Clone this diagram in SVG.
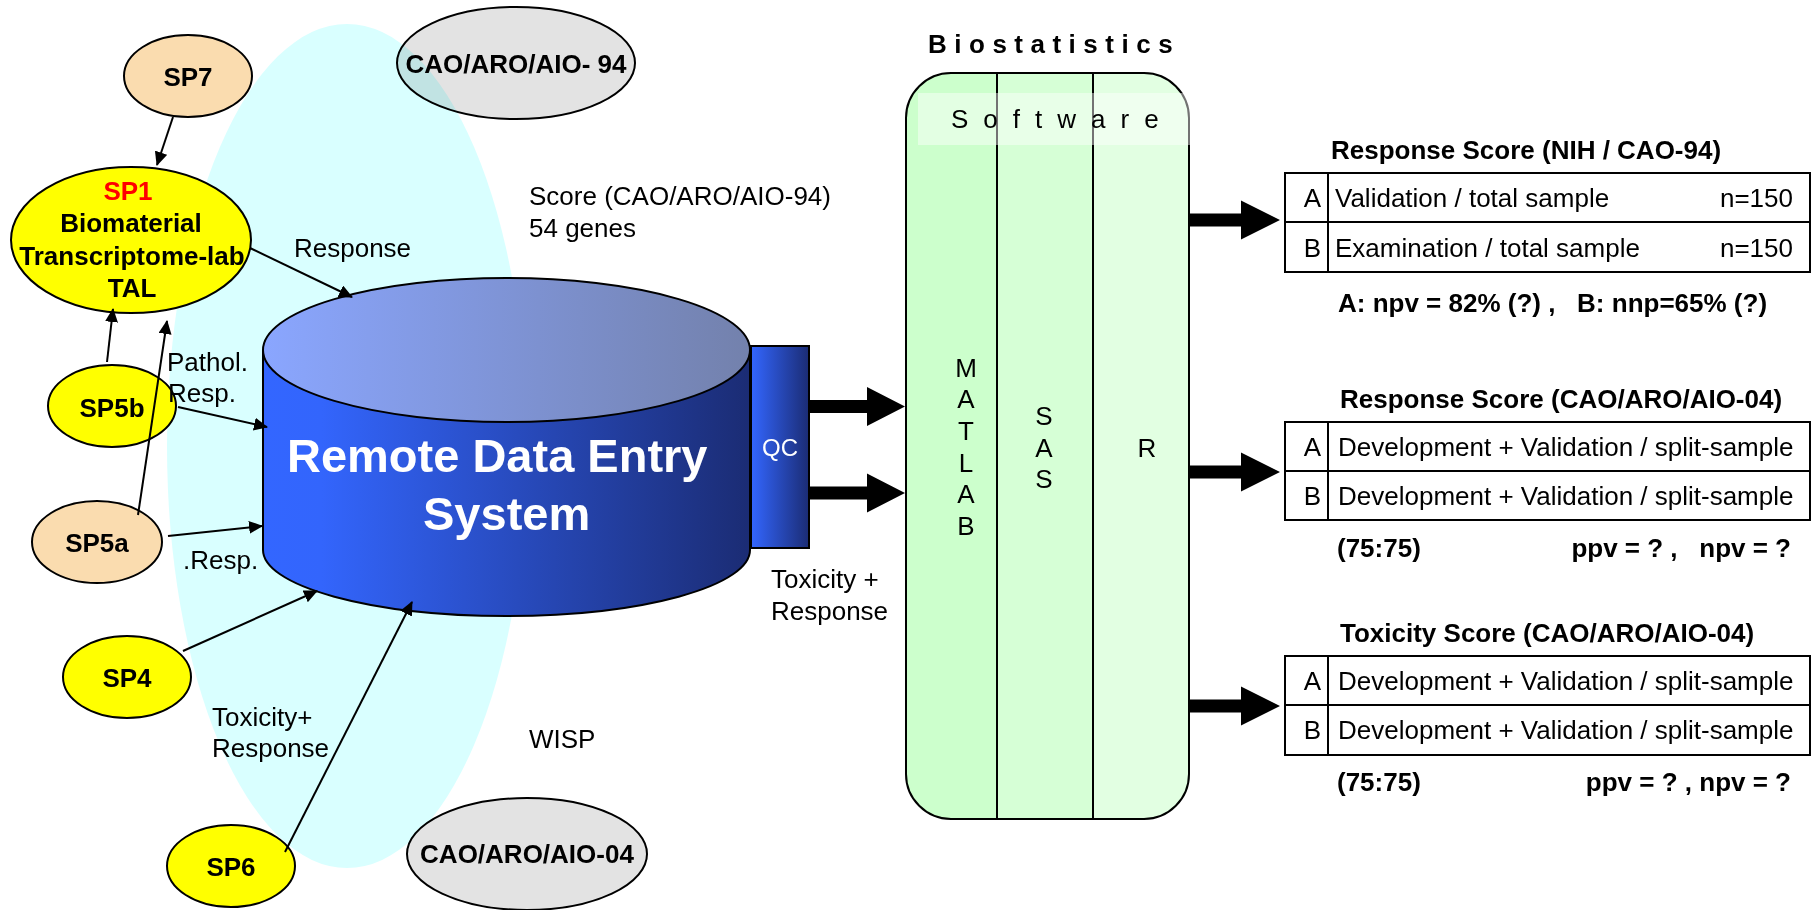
<svg xmlns="http://www.w3.org/2000/svg" width="1814" height="910" viewBox="0 0 1814 910">
<style>
text{font-family:"Liberation Sans",Arial,Helvetica,sans-serif;font-size:26px;fill:#000}
.b{font-weight:bold}
.m{text-anchor:middle}
.e{text-anchor:end}
.node{stroke:#000;stroke-width:2}
.peach{fill:#FADCAF}
.yel{fill:#FFFF00}
.gray{fill:#E3E3E3}
.conn line{stroke:#000;stroke-width:2;marker-end:url(#ah)}
.blk{fill:#000}
.tbl rect,.tbl line{fill:none;stroke:#000;stroke-width:2}
</style>
<defs>
<marker id="ah" viewBox="0 0 14 13" refX="13" refY="6.5" markerWidth="14" markerHeight="13" markerUnits="userSpaceOnUse" orient="auto">
<path d="M0,0 L14,6.5 L0,13 Z" fill="#000"/>
</marker>
<linearGradient id="bodyGrad" gradientUnits="userSpaceOnUse" x1="263" y1="0" x2="750" y2="0">
<stop offset="0" stop-color="#3366FF"/>
<stop offset="0.12" stop-color="#3365FC"/>
<stop offset="1" stop-color="#1B2C74"/>
</linearGradient>
<linearGradient id="topGrad" gradientUnits="userSpaceOnUse" x1="263" y1="0" x2="750" y2="0">
<stop offset="0" stop-color="#8AA6FF"/>
<stop offset="1" stop-color="#7381AC"/>
</linearGradient>
<linearGradient id="qcGrad" gradientUnits="userSpaceOnUse" x1="751" y1="0" x2="809" y2="0">
<stop offset="0" stop-color="#3366FF"/>
<stop offset="1" stop-color="#1B2C74"/>
</linearGradient>
<clipPath id="swclip">
<rect x="906" y="73" width="283" height="746" rx="45" ry="45"/>
</clipPath>
</defs>
<rect x="0" y="0" width="1814" height="910" fill="#fff"/>

<g id="cao94">
<ellipse class="node gray" cx="516" cy="63" rx="119" ry="56"/>
<text class="b m" x="516" y="73">CAO/ARO/AIO- 94</text>
</g>

<g id="wisp-region">
<ellipse cx="347" cy="446" rx="180" ry="422" fill="#D9FFFF" style="mix-blend-mode:multiply"/>
</g>

<g id="cao04">
<ellipse class="node gray" cx="527" cy="854" rx="120" ry="56"/>
<text class="b m" x="527" y="863">CAO/ARO/AIO-04</text>
</g>

<g id="sp7">
<ellipse class="node peach" cx="188" cy="76" rx="64" ry="41"/>
<text class="b m" x="188" y="86">SP7</text>
</g>

<g id="sp1">
<ellipse class="node yel" cx="131" cy="240" rx="120" ry="73"/>
<text class="b m" x="128" y="200" style="fill:#FF0000">SP1</text>
<text class="b m" x="131" y="232">Biomaterial</text>
<text class="b m" x="132" y="265">Transcriptome-lab</text>
<text class="b m" x="132" y="297">TAL</text>
</g>

<g id="sp5b">
<ellipse class="node yel" cx="112" cy="406" rx="64" ry="41"/>
<text class="b m" x="112" y="417">SP5b</text>
</g>

<g id="sp5a">
<ellipse class="node peach" cx="97" cy="542" rx="65" ry="41"/>
<text class="b m" x="97" y="552">SP5a</text>
</g>

<g id="sp4">
<ellipse class="node yel" cx="127" cy="677" rx="64" ry="41"/>
<text class="b m" x="127" y="687">SP4</text>
</g>

<g id="sp6">
<ellipse class="node yel" cx="231" cy="866" rx="64" ry="41"/>
<text class="b m" x="231" y="876">SP6</text>
</g>

<g id="rdes">
<path d="M263,350 L263,550 A243.5,66 0 0 0 750,550 L750,350" fill="url(#bodyGrad)" stroke="#000" stroke-width="2"/>
<ellipse cx="506.5" cy="350" rx="243.5" ry="72" fill="url(#topGrad)" stroke="#000" stroke-width="2"/>
<text class="b" x="287" y="472" style="font-size:47px;fill:#fff">Remote Data Entry</text>
<text class="b" x="423" y="530" style="font-size:47px;fill:#fff">System</text>
</g>

<g id="qc">
<rect x="751" y="346" width="58" height="202" fill="url(#qcGrad)" stroke="#000" stroke-width="2"/>
<text class="m" x="780" y="456" style="font-size:24px;fill:#fff">QC</text>
</g>

<g id="biostatistics">
<text class="b" x="928" y="53" style="letter-spacing:7.5px">Biostatistics</text>
<g clip-path="url(#swclip)">
<rect x="906" y="73" width="91" height="746" fill="#CCFFCC"/>
<rect x="997" y="73" width="96" height="746" fill="#D6FFD6"/>
<rect x="1093" y="73" width="96" height="746" fill="#E2FFE2"/>
</g>
<line x1="997" y1="73" x2="997" y2="819" stroke="#000" stroke-width="2"/>
<line x1="1093" y1="73" x2="1093" y2="819" stroke="#000" stroke-width="2"/>
<rect x="906" y="73" width="283" height="746" rx="45" ry="45" fill="none" stroke="#000" stroke-width="2"/>
<rect x="918" y="93" width="273" height="52" fill="#fff" fill-opacity="0.45"/>
<text x="951" y="128" style="letter-spacing:15px">Software</text>
<text class="m" x="966">
<tspan x="966" y="377">M</tspan><tspan x="966" y="408">A</tspan><tspan x="966" y="440">T</tspan><tspan x="966" y="472">L</tspan><tspan x="966" y="503">A</tspan><tspan x="966" y="535">B</tspan>
</text>
<text class="m" x="1044">
<tspan x="1044" y="425">S</tspan><tspan x="1044" y="457">A</tspan><tspan x="1044" y="488">S</tspan>
</text>
<text class="m" x="1147" y="457">R</text>
</g>

<g id="table-nih" class="tbl">
<text class="b" x="1331" y="159">Response Score (NIH / CAO-94)</text>
<rect x="1285" y="173" width="525" height="99"/>
<line x1="1285" y1="222" x2="1810" y2="222"/>
<line x1="1328" y1="173" x2="1328" y2="272"/>
<text class="e" x="1321" y="207">A</text>
<text x="1335" y="207">Validation / total sample</text>
<text class="e" x="1793" y="207">n=150</text>
<text class="e" x="1321" y="257">B</text>
<text x="1335" y="257">Examination / total sample</text>
<text class="e" x="1793" y="257">n=150</text>
<text class="b" x="1338" y="312" xml:space="preserve">A: npv = 82% (?) ,   B: nnp=65% (?)</text>
</g>

<g id="table-resp04" class="tbl">
<text class="b" x="1340" y="408">Response Score (CAO/ARO/AIO-04)</text>
<rect x="1285" y="422" width="525" height="98"/>
<line x1="1285" y1="471" x2="1810" y2="471"/>
<line x1="1328" y1="422" x2="1328" y2="520"/>
<text class="e" x="1321" y="456">A</text>
<text x="1338" y="456">Development + Validation / split-sample</text>
<text class="e" x="1321" y="505">B</text>
<text x="1338" y="505">Development + Validation / split-sample</text>
<text class="b" x="1337" y="557">(75:75)</text>
<text class="b e" x="1791" y="557" xml:space="preserve">ppv = ? ,   npv = ?</text>
</g>

<g id="table-tox04" class="tbl">
<text class="b" x="1340" y="642">Toxicity Score (CAO/ARO/AIO-04)</text>
<rect x="1285" y="656" width="525" height="99"/>
<line x1="1285" y1="705" x2="1810" y2="705"/>
<line x1="1328" y1="656" x2="1328" y2="755"/>
<text class="e" x="1321" y="690">A</text>
<text x="1338" y="690">Development + Validation / split-sample</text>
<text class="e" x="1321" y="739">B</text>
<text x="1338" y="739">Development + Validation / split-sample</text>
<text class="b" x="1337" y="791">(75:75)</text>
<text class="b e" x="1791" y="791" xml:space="preserve">ppv = ? , npv = ?</text>
</g>

<g id="labels">
<text x="529" y="205">Score (CAO/ARO/AIO-94)</text>
<text x="529" y="237">54 genes</text>
<text x="529" y="748">WISP</text>
</g>

<g id="connectors" class="conn">
<line x1="173" y1="117" x2="157" y2="165"/>
<line x1="250" y1="248" x2="352" y2="297"/>
<line x1="107" y1="362" x2="113" y2="309"/>
<line x1="138" y1="515" x2="167" y2="321"/>
<line x1="178" y1="407" x2="267" y2="427"/>
<line x1="168" y1="536" x2="262" y2="526"/>
<line x1="183" y1="651" x2="317" y2="591"/>
<line x1="285" y1="852" x2="412" y2="602"/>
<polygon class="blk" points="809,400 867,400 867,387 905,406.5 867,426 867,413 809,413"/>
<polygon class="blk" points="809,486.5 867,486.5 867,473.5 905,493 867,512.5 867,499.5 809,499.5"/>
<polygon class="blk" points="1189,213.5 1241,213.5 1241,200.5 1280,220 1241,239.5 1241,226.5 1189,226.5"/>
<polygon class="blk" points="1189,465.5 1241,465.5 1241,452.5 1280,472 1241,491.5 1241,478.5 1189,478.5"/>
<polygon class="blk" points="1189,699.5 1241,699.5 1241,686.5 1280,706 1241,725.5 1241,712.5 1189,712.5"/>
<text x="294" y="257">Response</text>
<text x="167" y="371">Pathol.</text>
<text x="168" y="402">Resp.</text>
<text x="183" y="569">.Resp.</text>
<text x="212" y="726">Toxicity+</text>
<text x="212" y="757">Response</text>
<text x="771" y="588">Toxicity +</text>
<text x="771" y="620">Response</text>
</g>
</svg>
